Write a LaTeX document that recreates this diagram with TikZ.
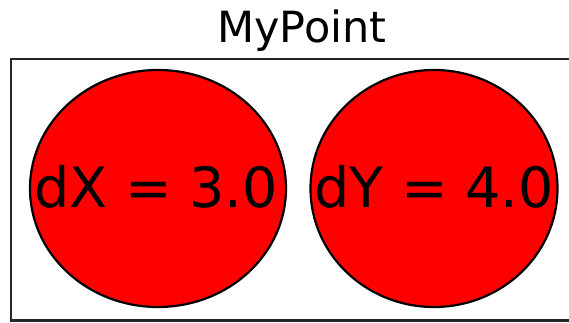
\documentclass[tikz,border=0pt]{standalone}
\usepackage{fontspec}
\setmainfont{DejaVu Sans}
\begin{document}
\begin{tikzpicture}[x=1pt,y=-1pt,
  blob/.style={draw=black,fill=red,line width=2.2pt},
  lbl/.style={font=\fontsize{55.5}{60}\selectfont,anchor=base,inner sep=0pt}]
\useasboundingbox (0,0) rectangle (569,323);
\node[font=\fontsize{43}{48}\selectfont,anchor=base,inner sep=0pt] (title) at (302,43) {MyPoint};
\draw[line width=2.5pt,draw=black!85] (11,59) rectangle (600,320.5);
\draw[blob] (158,188.5) ellipse [x radius=128, y radius=118.5];
\draw[blob] (434,188.5) ellipse [x radius=123.5, y radius=118.5];
\node[lbl] (dx) at (156,207) {dX = 3.0};
\node[lbl] (dy) at (434,207) {dY = 4.0};
\end{tikzpicture}
\end{document}
